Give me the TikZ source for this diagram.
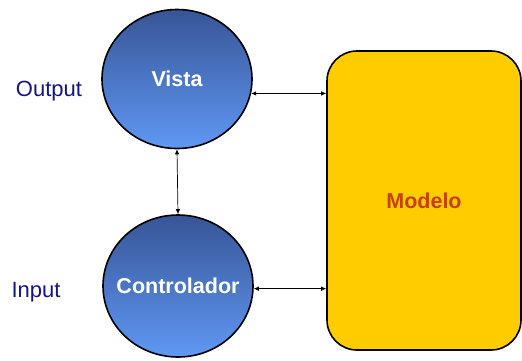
\documentclass[tikz,border=0pt]{standalone}
\usepackage{fontspec}
\setmainfont{Liberation Sans}
\usetikzlibrary{shapes.geometric,arrows.meta}
\definecolor{labelblue}{RGB}{20,20,130}
\definecolor{ballTop}{RGB}{55,85,150}
\definecolor{ballBot}{RGB}{96,152,244}
\definecolor{boxYellow}{RGB}{255,204,0}
\definecolor{modelRed}{RGB}{200,64,0}
\begin{document}
\begin{tikzpicture}[x=1pt, y=-1pt,
    every node/.style={font=\fontsize{22}{25}\selectfont},
    ball/.style={ellipse, draw=black, line width=1.6pt, minimum width=150pt, minimum height=139pt,
      inner sep=0pt, top color=ballTop, bottom color=ballBot,
      label={[text=white, font=\fontsize{21.5}{24}\selectfont\bfseries]center:#1}},
    link/.style={{Latex[length=5pt,width=4.5pt]}-{Latex[length=5pt,width=4.5pt]}, line width=0.7pt}]
  \useasboundingbox (0,0) rectangle (522,360);
  \node[ball=Vista] (vista) at (177,79) {};
  \node[ball=Controlador, minimum height=142pt] (ctrl) at (178,286) {};
  \node[draw=black, line width=1.6pt, fill=boxYellow, rounded corners=30pt,
    minimum width=194pt, minimum height=299pt, text=modelRed,
    font=\fontsize{21.5}{24}\selectfont\bfseries] (modelo) at (424,200.5) {Modelo};
  \node[text=labelblue] (out) at (49,91) {Output};
  \node[text=labelblue] (in) at (36,292) {Input};
  \draw[link] (vista.-11) -- (vista.-11 -| modelo.west);
  \draw[link] (ctrl.-2) -- (ctrl.-2 -| modelo.west);
  \draw[link] (vista.south) -- (ctrl.north);
\end{tikzpicture}
\end{document}
